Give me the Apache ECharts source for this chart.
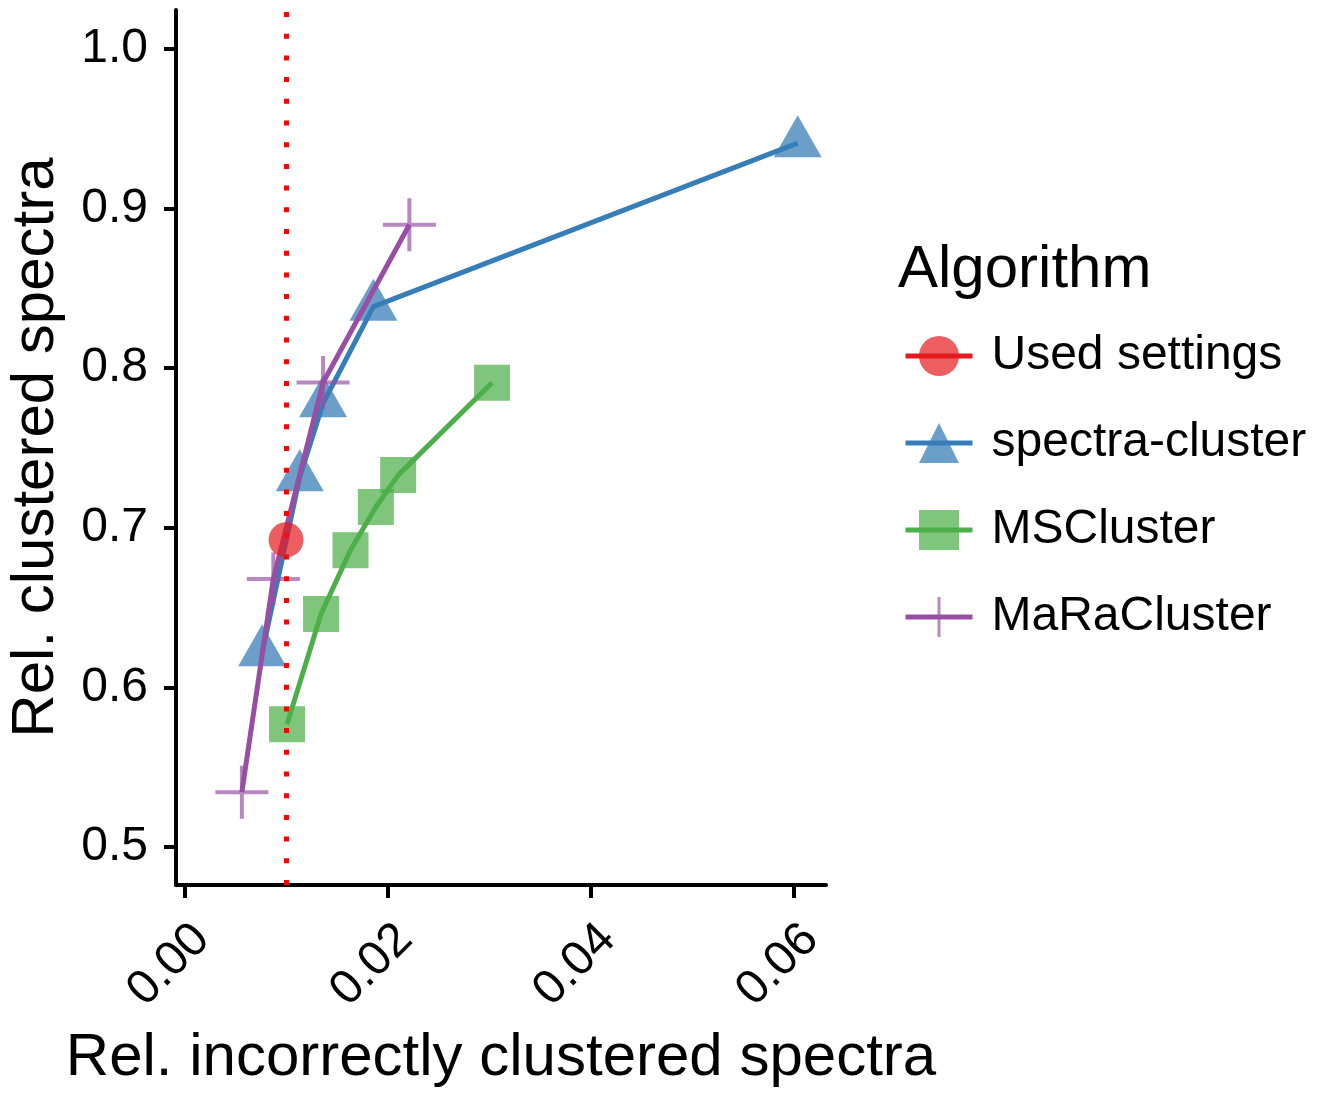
<!DOCTYPE html>
<html><head><meta charset="utf-8">
<script src="https://cdn.jsdelivr.net/npm/echarts@6/dist/echarts.min.js"></script>
<style>html,body{margin:0;padding:0;background:#fff}#c{width:1328px;height:1093px}</style>
</head><body><div id="c"></div>
<script>
const xTicks = [0, 0.02, 0.04, 0.06];
const yTicks = [0.5, 0.6, 0.7, 0.8, 0.9, 1.0];
const seriesNames = ['Used settings', 'spectra-cluster', 'MSCluster', 'MaRaCluster'];
const usedX = [0.00995];
const usedY = [0.6925];
const spectraX = [0.0076, 0.0113, 0.0136, 0.01856, 0.06036];
const spectraY = [0.622, 0.7316, 0.778, 0.8385, 0.9409];
const msX = [0.01005, 0.0134, 0.0163, 0.0188, 0.0210, 0.03025];
const msY = [0.577, 0.646, 0.686, 0.713, 0.733, 0.7908];
const maraX = [0.0056, 0.0087, 0.0136, 0.0221];
const maraY = [0.5344, 0.668, 0.791, 0.8898];
const refLineX = 0.01;

function pairs(xs, ys) { return xs.map((x, i) => [x, ys[i]]); }
const FONT = '"Liberation Sans", Arial, Helvetica, sans-serif';
const crossPath = 'path://M24.5,0h4v24.5h24.5v4h-24.5v24.5h-4v-24.5h-24.5v-4h24.5z';

const chart = echarts.init(document.getElementById('c'));
chart.setOption({
  animation: false,
  backgroundColor: '#fff',
  textStyle: { fontFamily: FONT },
  title: {
    text: 'Algorithm', left: 893, top: 235,
    textStyle: { fontFamily: FONT, fontSize: 60, fontWeight: 'normal', color: '#000' }
  },
  legend: {
    orient: 'vertical', left: 903, top: 332, padding: 0,
    itemWidth: 67, itemHeight: 50, itemGap: 39,
    lineStyle: { width: 5 },
    textStyle: { fontFamily: FONT, fontSize: 48, color: '#000', padding: [0, 0, 0, 14] },
    data: seriesNames
  },
  grid: { left: 176, right: 502, top: 10, bottom: 202 },
  xAxis: {
    type: 'value', min: -0.00089, max: 0.06315,
    name: 'Rel. incorrectly clustered spectra', nameLocation: 'middle', nameGap: 143,
    nameTextStyle: { fontFamily: FONT, fontSize: 60, color: '#000' },
    axisLine: { show: true, onZero: false, lineStyle: { color: '#000', width: 4 } },
    axisTick: { show: true, length: 13, customValues: xTicks, lineStyle: { color: '#000', width: 4 } },
    axisLabel: { customValues: xTicks, rotate: 45, margin: 30, verticalAlign: 'top',
      fontFamily: FONT, fontSize: 48, color: '#000', formatter: v => v.toFixed(2) },
    splitLine: { show: false }
  },
  yAxis: {
    type: 'value', min: 0.4763, max: 1.0243,
    name: 'Rel. clustered spectra', nameLocation: 'middle', nameGap: 110, nameRotate: 90,
    nameTextStyle: { fontFamily: FONT, fontSize: 60, color: '#000' },
    axisLine: { show: true, onZero: false, lineStyle: { color: '#000', width: 4 } },
    axisTick: { show: true, length: 12, customValues: yTicks, lineStyle: { color: '#000', width: 4 } },
    axisLabel: { customValues: yTicks, margin: 28, fontFamily: FONT, fontSize: 48, color: '#000',
      formatter: v => v.toFixed(1) },
    splitLine: { show: false }
  },
  series: [
    {
      name: 'spectra-cluster', type: 'line', data: pairs(spectraX, spectraY),
      symbol: 'triangle', symbolSize: [48, 42], symbolOffset: [0, '-16.7%'], showAllSymbol: true,
      lineStyle: { color: '#377EB8', width: 5 },
      itemStyle: { color: 'rgba(55,126,184,0.74)' }, z: 2
    },
    {
      name: 'MSCluster', type: 'line', data: pairs(msX, msY),
      symbol: 'rect', symbolSize: 36, showAllSymbol: true,
      lineStyle: { color: '#4DAF4A', width: 5 },
      itemStyle: { color: 'rgba(77,175,74,0.72)' }, z: 3
    },
    {
      name: 'MaRaCluster', type: 'line', data: pairs(maraX, maraY),
      symbol: crossPath, symbolSize: 53, showAllSymbol: true,
      lineStyle: { color: '#984EA3', width: 5 },
      itemStyle: { color: 'rgba(152,78,163,0.68)' }, z: 4
    },
    {
      name: 'Used settings', type: 'line', data: pairs(usedX, usedY),
      symbol: 'circle', symbolSize: 35, showAllSymbol: true,
      lineStyle: { color: '#E41A1C', width: 5 },
      itemStyle: { color: 'rgba(228,26,28,0.7)' }, z: 5,
      markLine: {
        silent: true, symbol: 'none', label: { show: false },
        lineStyle: { color: '#FF0000', type: [5, 16.7], width: 5, opacity: 1 },
        data: [{ xAxis: refLineX }]
      }
    }
  ]
});
</script></body></html>
